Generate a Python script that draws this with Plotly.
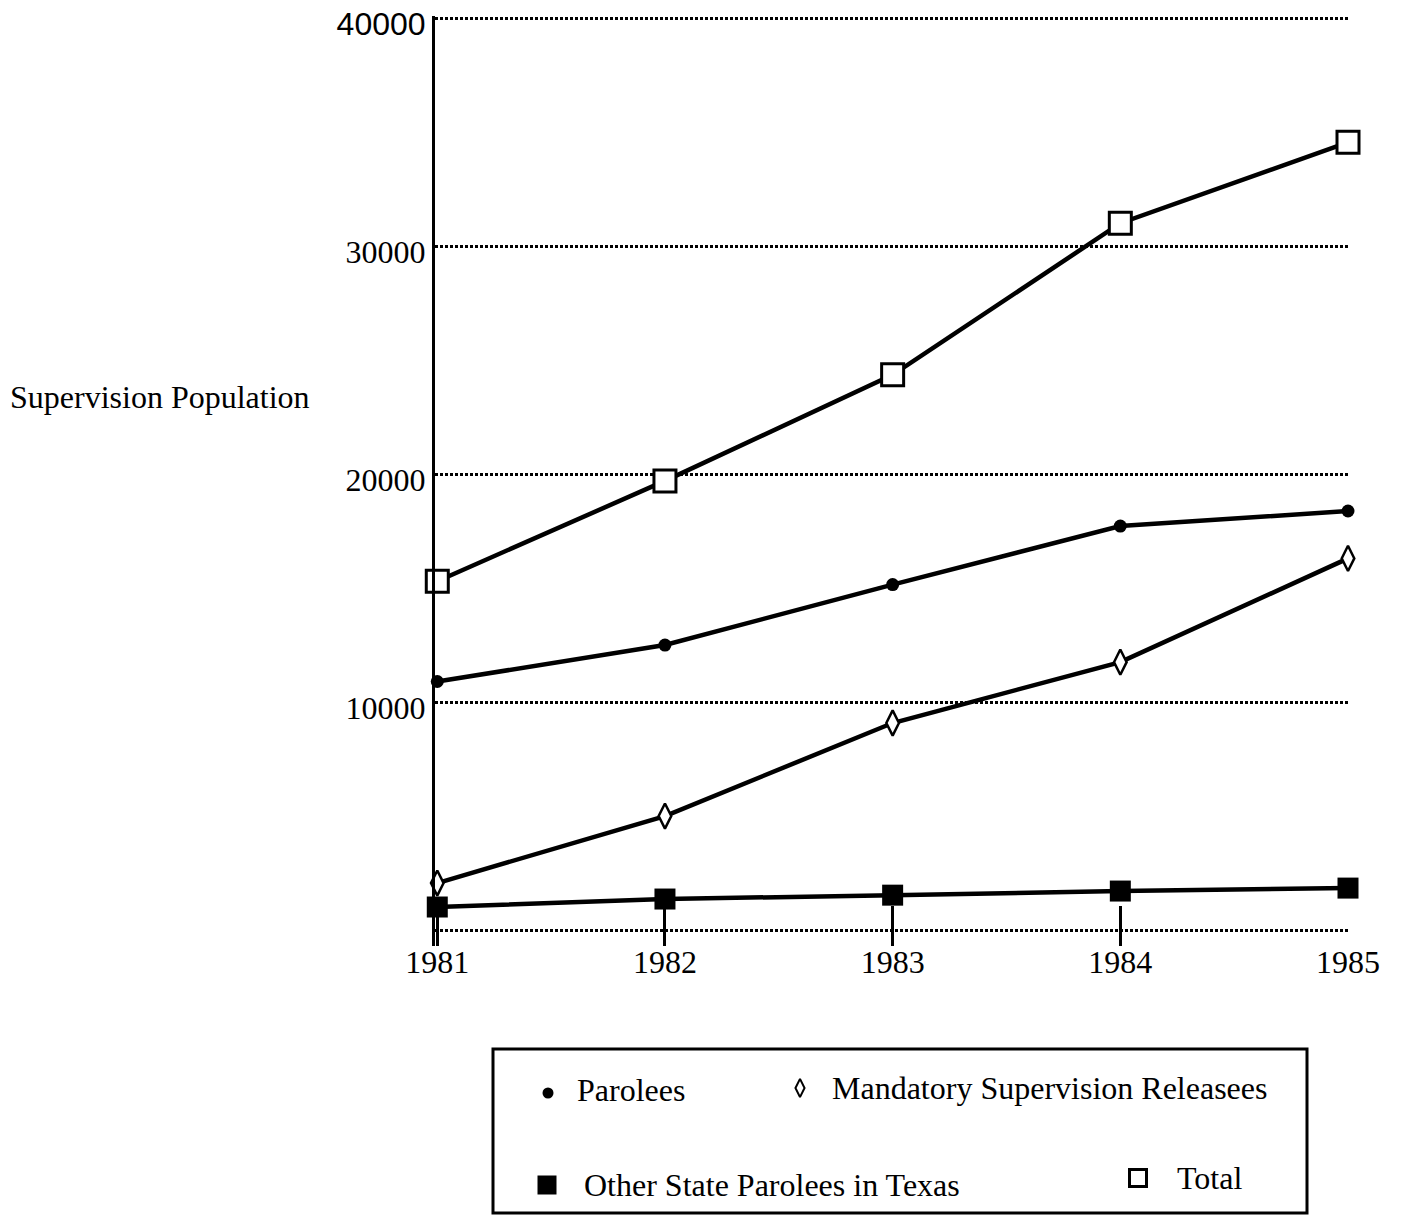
import plotly.graph_objects as go

years = [1981, 1982, 1983, 1984, 1985]
total = [15300, 19700, 24350, 31000, 34550]
parolees = [10900, 12500, 15150, 17720, 18380]
mandatory = [2060, 5000, 9080, 11750, 16300]
other_state = [1010, 1360, 1530, 1710, 1840]

y_ticks = [0, 10000, 20000, 30000, 40000]
y_ticktext = ["", "10000", "20000", "30000",
              "<span style='font-family:Liberation Sans'>40000</span>"]
series_names = ["Parolees", "Mandatory Supervision Releasees",
                "Other State Parolees in Texas", "Total"]

W, H = 1408, 1219
OFF = 8  # page body margin
SERIF = "Liberation Serif"
FS = 32

fig = go.Figure()

line = dict(color="black", width=4.5)
fig.add_trace(go.Scatter(x=years, y=other_state, mode="lines+markers", line=line,
                         marker=dict(symbol="square", size=21, color="black"),
                         cliponaxis=False, name=series_names[2]))
fig.add_trace(go.Scatter(x=years, y=mandatory, mode="lines+markers", line=line,
                         marker=dict(symbol="diamond-tall", size=18, color="white",
                                     line=dict(color="black", width=2.5)),
                         cliponaxis=False, name=series_names[1]))
fig.add_trace(go.Scatter(x=years, y=parolees, mode="lines+markers", line=line,
                         marker=dict(symbol="circle", size=13, color="black"),
                         cliponaxis=False, name=series_names[0]))
fig.add_trace(go.Scatter(x=years, y=total, mode="lines+markers", line=line,
                         marker=dict(symbol="square", size=22, color="white",
                                     line=dict(color="black", width=3)),
                         cliponaxis=False, name=series_names[3]))

# legend drawn on a full-figure helper axis (page pixel coordinates)
leg_items = [
    (548, 1093, dict(symbol="circle", size=11, color="black"), 575, 1090, series_names[0]),
    (800, 1088, dict(symbol="diamond-tall", size=13, color="white",
                     line=dict(color="black", width=2)), 830, 1088, series_names[1]),
    (547, 1185, dict(symbol="square", size=19, color="black"), 582, 1185, series_names[2]),
    (1138, 1178, dict(symbol="square", size=17, color="white",
                      line=dict(color="black", width=3)), 1175, 1178, series_names[3]),
]
for mx, my, mk, tx, ty, name in leg_items:
    fig.add_trace(go.Scatter(x=[mx], y=[my], mode="markers", marker=mk,
                             xaxis="x2", yaxis="y2", cliponaxis=False,
                             hoverinfo="skip"))
    fig.add_annotation(x=tx, y=ty, xref="x2", yref="y2", text=name,
                       showarrow=False, xanchor="left", yanchor="middle",
                       font=dict(family=SERIF, size=FS, color="black"))

fig.add_shape(type="rect", xref="x2", yref="y2", x0=493, x1=1307, y0=1049, y1=1213,
              line=dict(color="black", width=3), fillcolor="rgba(0,0,0,0)")

fig.add_annotation(x=8, y=397, xref="x2", yref="y2",
                   text="Supervision Population", showarrow=False,
                   xanchor="left", yanchor="middle",
                   font=dict(family=SERIF, size=FS, color="black"))

fig.update_layout(
    width=W, height=H,
    margin=dict(l=0, r=0, t=0, b=0, autoexpand=False),
    paper_bgcolor="white", plot_bgcolor="rgba(0,0,0,0)",
    showlegend=False,
    font=dict(family=SERIF, size=FS, color="black"),
    xaxis=dict(domain=[(435 - OFF) / W, (1348 - OFF) / W], range=[1980.99, 1985.0],
               tickvals=years, ticks="inside", ticklen=40, tickwidth=2.5,
               tickcolor="black", showline=False, showgrid=False, zeroline=False,
               ticklabelstandoff=-6,
               tickfont=dict(family=SERIF, size=FS), anchor="y"),
    yaxis=dict(domain=[(H - 946 + OFF) / H, (H - 16 + OFF) / H], range=[-700, 40090],
               tickvals=y_ticks, ticktext=y_ticktext, ticks="",
               ticklabeloverflow="allow", ticklabelshift=6,
               showline=True, linecolor="black", linewidth=3,
               showgrid=True, gridcolor="black", gridwidth=3, griddash="3px,2px",
               zeroline=False, tickfont=dict(family=SERIF, size=FS), anchor="x"),
    xaxis2=dict(domain=[0, 1], range=[OFF, W + OFF], visible=False, anchor="y2"),
    yaxis2=dict(domain=[0, 1], range=[H + OFF, OFF], visible=False, anchor="x2"),
)

fig.write_html("out.html")
